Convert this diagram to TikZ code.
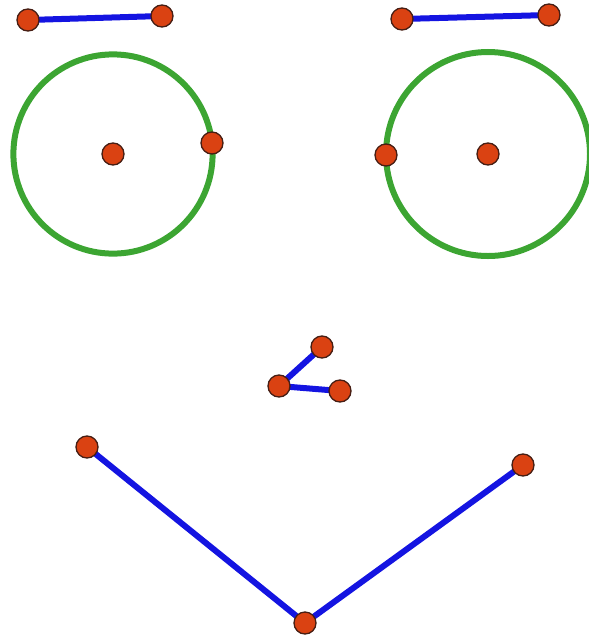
\documentclass[tikz,border=0pt]{standalone}
\usetikzlibrary{through}
\definecolor{ptfill}{RGB}{218,66,18}
\definecolor{ptline}{RGB}{70,30,20}
\definecolor{segblue}{RGB}{20,20,225}
\definecolor{ringgreen}{RGB}{60,165,50}
\begin{document}
\begin{tikzpicture}[x=1pt,y=-1pt,
  pt/.style={circle,fill=ptfill,draw=ptline,line width=1.3pt,inner sep=0pt,minimum size=22pt},
  seg/.style={draw=segblue,line width=6pt},
  ring/.style={draw=ringgreen,line width=6pt}]
\useasboundingbox (0,0) rectangle (589,640);
% coordinates
\coordinate (lb1) at (28,20);
\coordinate (lb2) at (162,16);
\coordinate (rb1) at (402,19);
\coordinate (rb2) at (549,15);
\coordinate (lc) at (113,154);
\coordinate (lp) at (212,143);
\coordinate (rc) at (488,154);
\coordinate (rp) at (386,155);
\coordinate (n1) at (322,347);
\coordinate (n2) at (279,386);
\coordinate (n3) at (340,391);
\coordinate (m1) at (87,447);
\coordinate (m2) at (305,623);
\coordinate (m3) at (523,465);
% circles
\node[ring,circle through=(lp)] (lring) at (lc) {};
\node[ring,circle through=(rp)] (rring) at (rc) {};
% segments
\draw[seg] (lb1) -- (lb2);
\draw[seg] (rb1) -- (rb2);
\draw[seg] (n2) -- (n1);
\draw[seg] (n2) -- (n3);
\draw[seg] (m1) -- (m2) -- (m3);
% points
\foreach \p in {lb1,lb2,rb1,rb2,lc,lp,rc,rp,n1,n2,n3,m1,m2,m3}
  \node[pt] (P\p) at (\p) {};
\end{tikzpicture}
\end{document}
